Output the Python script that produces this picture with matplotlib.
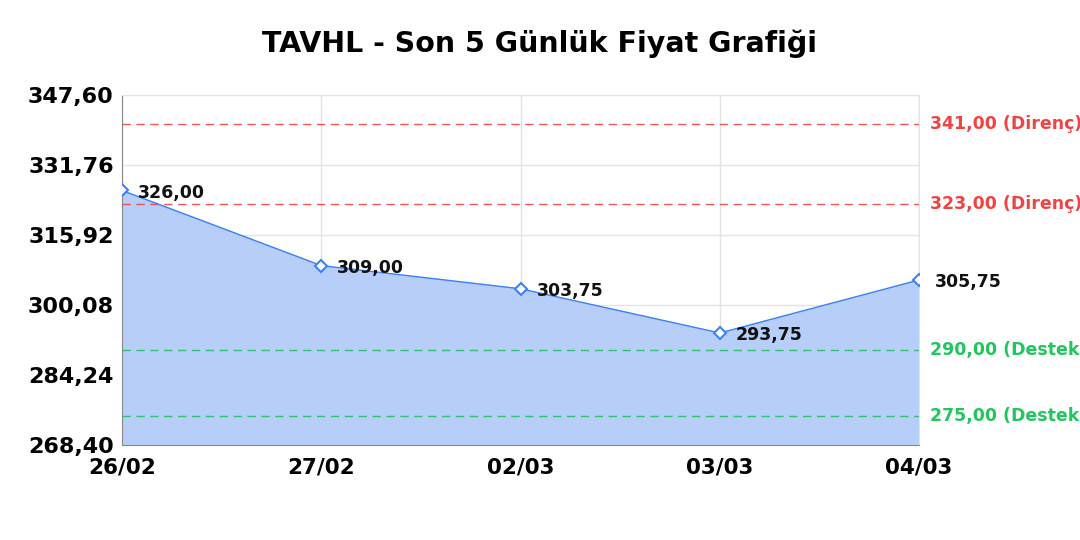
import matplotlib
matplotlib.use("Agg")
import matplotlib.pyplot as plt
import numpy as np

# data
dates = ["26/02", "27/02", "02/03", "03/03", "04/03"]
prices = [326.00, 309.00, 303.75, 293.75, 305.75]
resistance = [341.00, 323.00]
support = [290.00, 275.00]
yticks = [268.40, 284.24, 300.08, 315.92, 331.76, 347.60]

def fmt(v):
    return f"{v:.2f}".replace(".", ",")

fig = plt.figure(figsize=(10.8, 5.4), dpi=100)
ax = fig.add_axes([0.113, 0.176, 0.738, 0.648])

x = np.arange(len(dates))
line_col = "#3b82f6"
ax.fill_between(x, prices, yticks[0], color="#b6cef8", zorder=1)
ax.plot(x, prices, color=line_col, lw=1, zorder=3)
ax.plot(x, prices, ls="none", marker="D", ms=6, mfc="white", mec=line_col, mew=1.5, zorder=4)

for xi, p in zip(x, prices):
    ax.annotate(fmt(p), (xi, p), xytext=(11.5, -1.5), textcoords="offset points",
                ha="left", va="center", fontsize=12.5, fontweight="bold", color="#111111", zorder=5)

red = "#ef4444"
green = "#22c55e"
for r in resistance:
    ax.axhline(r, color=red, ls=(0, (6, 4)), lw=1, alpha=0.9, zorder=2)
    ax.annotate(f"{fmt(r)} (Direnç)", (1, r), xycoords=("axes fraction", "data"),
                xytext=(8, 0), textcoords="offset points", ha="left", va="center",
                fontsize=12.5, fontweight="bold", color=red, annotation_clip=False)
for s in support:
    ax.axhline(s, color=green, ls=(0, (6, 4)), lw=1, alpha=0.9, zorder=2)
    ax.annotate(f"{fmt(s)} (Destek)", (1, s), xycoords=("axes fraction", "data"),
                xytext=(8, 0), textcoords="offset points", ha="left", va="center",
                fontsize=12.5, fontweight="bold", color=green, annotation_clip=False)

ax.set_xlim(0, len(dates) - 1)
ax.set_ylim(yticks[0], yticks[-1])
ax.set_xticks(x)
ax.set_xticklabels(dates, fontsize=15.5, fontweight="bold")
ax.set_yticks(yticks)
ax.set_yticklabels([fmt(v) for v in yticks], fontsize=16, fontweight="bold")
ax.tick_params(length=0, pad=6)
ax.tick_params(axis="x", pad=9)
ax.grid(True, color="#e3e3e3", lw=1, zorder=0)
ax.set_axisbelow(True)
for side in ["top", "right"]:
    ax.spines[side].set_color("#e3e3e3")
for side in ["left", "bottom"]:
    ax.spines[side].set_color("#888888")

fig.suptitle("TAVHL - Son 5 Günlük Fiyat Grafiği", y=0.945, fontsize=20.5, fontweight="bold")

fig.savefig("out.png", dpi=100)
